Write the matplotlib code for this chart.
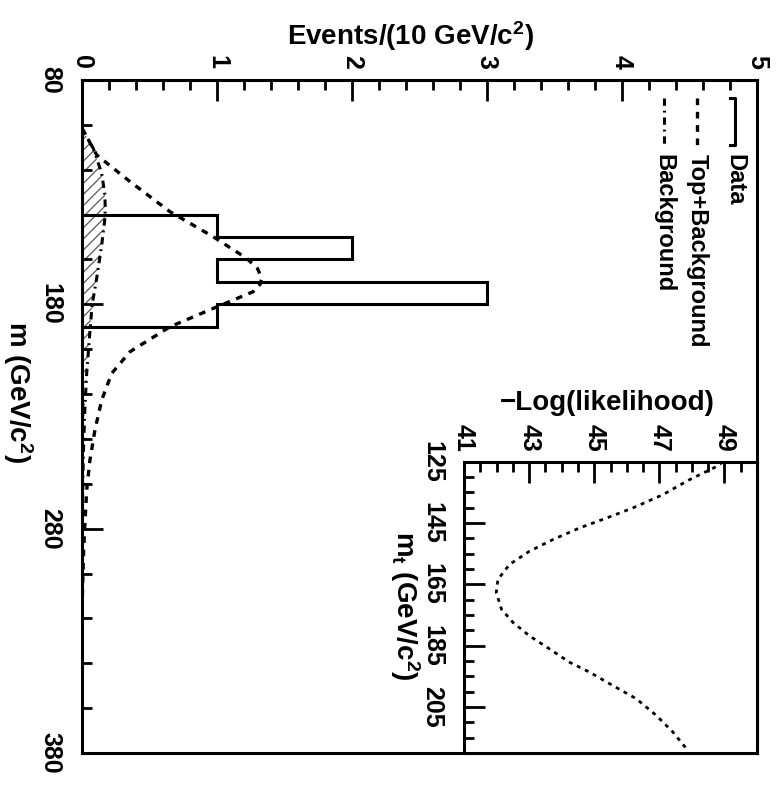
import matplotlib.pyplot as plt
from matplotlib.ticker import MultipleLocator, FixedLocator

plt.rcParams['font.family'] = ['Liberation Sans', 'DejaVu Sans']
plt.rcParams['font.weight'] = 'bold'
plt.rcParams['mathtext.fontset'] = 'custom'
plt.rcParams['mathtext.rm'] = 'Liberation Sans:bold'
plt.rcParams['mathtext.it'] = 'Liberation Sans:bold'
plt.rcParams['mathtext.bf'] = 'Liberation Sans:bold'
plt.rcParams['hatch.linewidth'] = 0.9

# histogram of the data (10 GeV bins)
bin_edges = [140, 150, 160, 170, 180, 190]
data_counts = [1, 2, 1, 3, 1]

# top + background expectation
sig_mass = [101.5, 113.4, 125.3, 138.7, 149.9, 159.5, 164.0, 168.4, 171.0, 174.4,
            181.8, 190.0, 201.1, 210.8, 222.7, 236.0, 249.4, 262.8, 277.5, 290.0,
            305.0, 320.0]
sig_events = [0.0, 0.109, 0.356, 0.652, 0.973, 1.22, 1.30, 1.331, 1.32, 1.267,
              0.973, 0.652, 0.356, 0.22, 0.146, 0.096, 0.059, 0.035, 0.022, 0.012,
              0.005, 0.0]

# background only
bkg_mass = [101.5, 110.5, 121.6, 131.3, 136.5, 141.7, 153.6, 168.4, 178.8, 182.5,
            195.9, 210.6, 225.7, 247.0, 270.0, 300.0]
bkg_events = [0.0, 0.084, 0.146, 0.17, 0.172, 0.17, 0.146, 0.109, 0.079, 0.072,
              0.054, 0.035, 0.022, 0.010, 0.004, 0.0]

# -log(likelihood) vs top mass
lik_mass = [125.0, 126.4, 130.9, 135.8, 140.1, 143.4, 146.6, 150.4, 154.2, 158.5,
            163.4, 167.7, 173.1, 177.4, 181.8, 186.1, 190.4, 193.6, 198.0, 202.3,
            207.7, 213.1, 219.1]
lik_value = [48.95, 48.79, 47.92, 47.10, 46.18, 45.37, 44.55, 43.73, 43.01, 42.40,
             42.04, 41.99, 42.15, 42.50, 43.01, 43.63, 44.24, 44.85, 45.57, 46.29,
             46.90, 47.41, 47.87]

legend_labels = ['Data', 'Top+Background', 'Background']

DASH = (2.0, 2.0)
DASHDOT = (2.4, 1.6, 0.6, 1.6)

fig = plt.figure(figsize=(7.77, 7.86), dpi=100)
ax = fig.add_axes([0.1055, 0.042, 0.8687, 0.8562])

ax.fill_betweenx(bkg_mass, 0, bkg_events, facecolor='none', edgecolor='0.35',
                 hatch='///', linewidth=0)
ax.stairs(data_counts, bin_edges, orientation='horizontal', baseline=0,
          color='black', lw=2.2)
ax.plot(sig_events, sig_mass, color='black', lw=2.4, dashes=DASH)
ax.plot(bkg_events, bkg_mass, color='black', lw=2.2, dashes=DASHDOT)

ax.set_xlim(0, 5)
ax.set_ylim(380, 80)
ax.xaxis.tick_top()
ax.xaxis.set_major_locator(MultipleLocator(1))
ax.xaxis.set_minor_locator(MultipleLocator(0.2))
ax.yaxis.set_major_locator(FixedLocator([80, 180, 280, 380]))
ax.yaxis.set_minor_locator(FixedLocator(list(range(80, 381, 20))))
ax.tick_params(which='both', direction='in', width=2, top=True, bottom=False,
               left=True, right=False, labeltop=True, labelbottom=False)
ax.tick_params(which='major', length=15)
ax.tick_params(which='minor', length=7)
ax.tick_params(axis='x', labelsize=18, pad=8, labelrotation=-90)
ax.tick_params(axis='y', labelsize=18, pad=14, labelrotation=-90)
for lab in ax.get_yticklabels():
    lab.set_va('center')
for sp in ax.spines.values():
    sp.set_linewidth(2.2)

# legend, drawn rotated like the rest of the plot
ax.plot([4.80, 4.837, 4.837, 4.80], [88, 88, 109, 109], color='black', lw=2.2)
ax.plot([4.556, 4.556], [88, 109], color='black', lw=2.4, dashes=DASH)
ax.plot([4.311, 4.311], [88, 109], color='black', lw=2.2, dashes=DASHDOT)
for xpos, txt in zip([4.837, 4.556, 4.311], legend_labels):
    ax.text(xpos, 113, txt, rotation=-90, ha='center', va='top', fontsize=17)

fig.text(0.528, 0.954, 'Events/(10 GeV/c$^{2}$)', ha='center', va='center',
         fontsize=20)
fig.text(0.023, 0.501, 'm (GeV/c$^{2}$)', ha='center', va='center',
         rotation=-90, fontsize=20)

# inset: likelihood scan
axin = fig.add_axes([0.5972, 0.042, 0.3771, 0.3706])
axin.plot(lik_value, lik_mass, color='black', lw=2.0, dashes=(1.4, 1.8))
axin.set_xlim(41, 50)
axin.set_ylim(220, 125)
axin.xaxis.tick_top()
axin.xaxis.set_major_locator(FixedLocator([41, 43, 45, 47, 49]))
axin.xaxis.set_minor_locator(MultipleLocator(0.5))
axin.yaxis.set_major_locator(FixedLocator([125, 145, 165, 185, 205]))
axin.yaxis.set_minor_locator(MultipleLocator(5))
axin.tick_params(which='both', direction='in', width=2, top=True, bottom=False,
                 left=True, right=False, labeltop=True, labelbottom=False)
axin.tick_params(which='major', length=15)
axin.tick_params(which='minor', length=7)
axin.tick_params(axis='x', labelsize=18, pad=7, labelrotation=-90)
axin.tick_params(axis='y', labelsize=18, pad=14, labelrotation=-90)
for lab in axin.get_yticklabels():
    lab.set_va('center')
for sp in axin.spines.values():
    sp.set_linewidth(2.2)

fig.text(0.781, 0.487, '\u2212Log(likelihood)', ha='center', va='center',
         fontsize=20)
fig.text(0.521, 0.229, 'm$_{t}$ (GeV/c$^{2}$)', ha='center', va='center',
         rotation=-90, fontsize=20)

fig.savefig('out.png', dpi=100)
